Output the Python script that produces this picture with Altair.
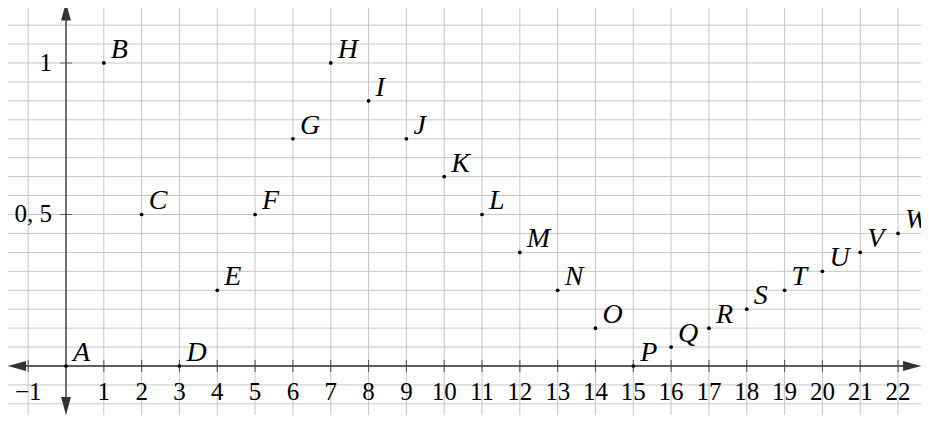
import altair as alt
import pandas as pd

# ---- data ----
names = list("ABCDEFGHIJKLMNOPQRSTUVW")
xs = list(range(23))
ys = [0, 1, 0.5, 0, 0.25, 0.5, 0.75, 1, 0.875, 0.75, 0.625, 0.5, 0.375,
      0.25, 0.125, 0, 0.0625, 0.125, 0.1875, 0.25, 0.3125, 0.375, 0.4375]

x_tick_values = [-1] + list(range(1, 24))
x_tick_labels = ["\u22121"] + [str(v) for v in range(1, 24)]
y_tick_values = [0.5, 1]
y_tick_labels = ["0, 5", "1"]

x_domain = [-1.5336, 22.607]
y_domain = [-0.1617, 1.1815]
x_grid = list(range(-1, 23))
y_grid = [k * 0.0625 for k in range(-2, 19)]

arrow_x = [-1.296, 22.37, 0, 0]
arrow_y = [0, 0, 1.17, -0.132]
arrow_shape = ["M -1 0 L 1 -0.55 L 1 0.55 Z",
               "M 1 0 L -1 -0.55 L -1 0.55 Z",
               "M 0 -1 L -0.55 1 L 0.55 1 Z",
               "M 0 1 L -0.55 -1 L 0.55 -1 Z"]

W, H = 913, 407
FONT = "Liberation Serif"
AXC = "#333333"
GRIDC = "#c6c6c6"

xsc = alt.Scale(domain=x_domain, nice=False, zero=False)
ysc = alt.Scale(domain=y_domain, nice=False, zero=False)

pts = pd.DataFrame({"name": names, "x": xs, "y": ys})
xt = pd.DataFrame({"v": x_tick_values, "lab": x_tick_labels, "z": 0})
yt = pd.DataFrame({"v": y_tick_values, "lab": y_tick_labels, "z": 0})
vg = pd.DataFrame({"v": x_grid})
hg = pd.DataFrame({"v": y_grid})
arr = pd.DataFrame({"x": arrow_x, "y": arrow_y, "shape": arrow_shape})
xaxis = pd.DataFrame({"x": [arrow_x[0]], "x2": [arrow_x[1]], "y": [0]})
yaxis = pd.DataFrame({"y": [arrow_y[3]], "y2": [arrow_y[2]], "x": [0]})

X = lambda f: alt.X(f, scale=xsc, axis=None)
Y = lambda f: alt.Y(f, scale=ysc, axis=None)

vgrid = alt.Chart(vg).mark_rule(color=GRIDC, strokeWidth=1).encode(
    x=X("v:Q"), y=alt.value(0), y2=alt.value(H))
hgrid = alt.Chart(hg).mark_rule(color=GRIDC, strokeWidth=1).encode(
    y=Y("v:Q"), x=alt.value(0), x2=alt.value(W))

xline = alt.Chart(xaxis).mark_rule(color=AXC, strokeWidth=1.3).encode(
    x=X("x:Q"), x2="x2:Q", y=Y("y:Q"))
yline = alt.Chart(yaxis).mark_rule(color=AXC, strokeWidth=1.3).encode(
    y=Y("y:Q"), y2="y2:Q", x=X("x:Q"))

xticks = alt.Chart(xt).mark_tick(orient="vertical", size=12, thickness=1.2,
                                 color=AXC).encode(x=X("v:Q"), y=Y("z:Q"))
yticks = alt.Chart(yt).mark_tick(orient="horizontal", size=12, thickness=1.2,
                                 color=AXC).encode(y=Y("v:Q"), x=X("z:Q"))

xlabels = alt.Chart(xt).mark_text(font=FONT, fontSize=25, baseline="alphabetic",
                                  align="center", dy=34, color="black").encode(
    x=X("v:Q"), y=Y("z:Q"), text="lab:N")
ylabels = alt.Chart(yt).mark_text(font=FONT, fontSize=25, baseline="middle",
                                  align="right", dx=-14, color="black").encode(
    y=Y("v:Q"), x=X("z:Q"), text="lab:N")

arrows = alt.Chart(arr).mark_point(filled=True, color=AXC, opacity=1,
                                   size=324, strokeWidth=0).encode(
    x=X("x:Q"), y=Y("y:Q"), shape=alt.Shape("shape:N", scale=None, legend=None))

dots = alt.Chart(pts).mark_circle(color="black", size=14, opacity=1).encode(
    x=X("x:Q"), y=Y("y:Q"))
labels = alt.Chart(pts).mark_text(font=FONT, fontSize=28, fontStyle="italic",
                                  align="left", baseline="alphabetic", dx=7, dy=-5,
                                  color="black").encode(
    x=X("x:Q"), y=Y("y:Q"), text="name:N")

chart = alt.layer(vgrid, hgrid, xline, yline, xticks, yticks, xlabels, ylabels,
                  arrows, dots, labels).properties(
    width=W, height=H, padding=0, autosize=alt.AutoSizeParams(type="none"),
    background="white"
).configure_view(stroke=None)

chart.save("out.html", embed_options={"renderer": "svg", "actions": False})
